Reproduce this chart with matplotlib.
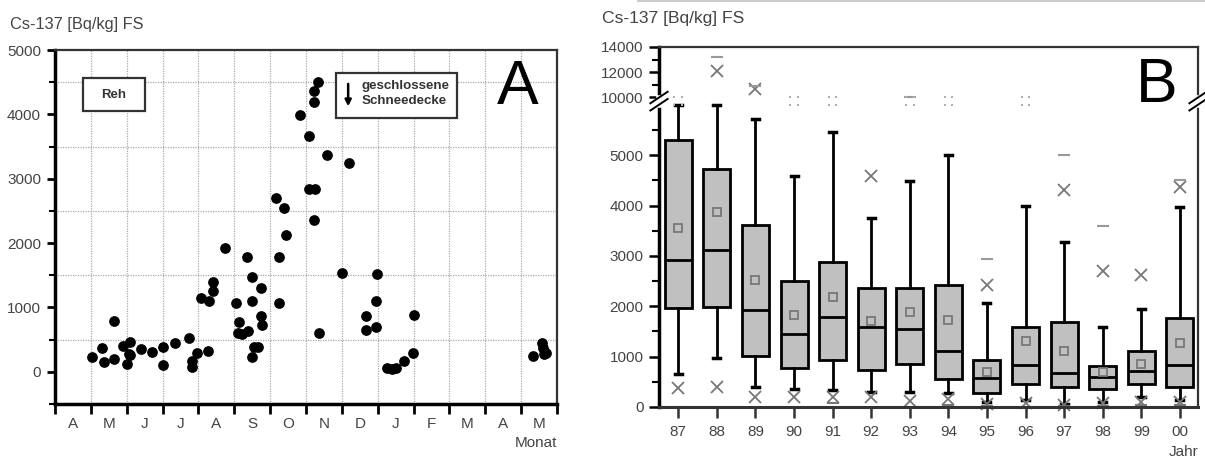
import numpy as np
import matplotlib
matplotlib.use('Agg')
import matplotlib.pyplot as plt
from matplotlib.patches import Rectangle
from matplotlib.lines import Line2D

plt.rcParams['font.family'] = ['Liberation Sans', 'DejaVu Sans']

# ---- Panel A: Reh, Cs-137 je Monat (x = Monate ab Anfang April) ----
months = ['A', 'M', 'J', 'J', 'A', 'S', 'O', 'N', 'D', 'J', 'F', 'M', 'A', 'M']
reh_x = [1.02, 1.32, 1.38, 1.64, 1.64, 1.91, 2.0, 2.09, 2.06, 2.1, 2.39, 2.7, 3.0, 3.0,
         3.35, 3.74, 3.81, 3.81, 3.96, 4.07, 4.3, 4.4, 4.4, 4.27, 4.73, 5.06, 5.13, 5.1,
         5.21, 5.38, 5.35, 5.49, 5.49, 5.49, 5.54, 5.65, 5.75, 5.75, 5.78, 6.24, 6.24,
         6.44, 6.15, 6.38, 6.84, 7.33, 7.22, 7.22, 7.09, 7.59, 8.21, 7.09, 7.24, 7.22,
         8.0, 8.97, 8.94, 7.35, 8.68, 8.68, 8.94, 10.02, 9.99, 9.72, 9.26, 9.39, 9.5,
         13.33, 13.57, 13.61, 13.7, 13.64]
reh_y = [230, 370, 160, 790, 200, 400, 120, 460, 280, 260, 360, 310, 390, 110,
         450, 530, 170, 80, 290, 1150, 1100, 1400, 1260, 330, 1930, 1070, 780, 610,
         590, 640, 1790, 1480, 1100, 230, 390, 390, 1310, 860, 720, 1790, 1070,
         2130, 2700, 2550, 3990, 4510, 4370, 4190, 3670, 3370, 3250, 2840, 2840, 2360,
         1530, 1520, 1100, 600, 870, 650, 690, 890, 290, 170, 60, 40, 60,
         250, 450, 370, 300, 280]

# ---- Panel B: Boxplots je Jahr ----
years = ['87', '88', '89', '90', '91', '92', '93', '94', '95', '96', '97', '98', '99', '00']
q1 = [1970, 1990, 1010, 780, 930, 730, 850, 560, 270, 460, 390, 360, 460, 400]
med = [2920, 3120, 1930, 1450, 1790, 1590, 1550, 1120, 570, 840, 680, 600, 720, 840]
q3 = [5310, 4730, 3620, 2510, 2880, 2370, 2370, 2430, 930, 1580, 1690, 820, 1110, 1770]
whis_lo = [650, 970, 400, 360, 340, 300, 300, 270, 100, 140, 50, 100, 200, 140]
whis_hi = [6000, 6000, 5720, 4580, 5470, 3760, 4490, 5000, 2070, 4000, 3270, 1590, 1950, 3980]
means = [3560, 3870, 2530, 1830, 2190, 1710, 1890, 1730, 700, 1310, 1120, 700, 850, 1270]
p99 = [np.nan, 12080, 10640, np.nan, np.nan, 4580, np.nan, np.nan, 2420, np.nan, 4300, 2710, 2620, 4360]
p1 = [380, 400, 200, 200, 200, 200, 120, 150, 60, 80, 30, 80, 100, 100]
vmax = [np.nan, 13200, 10900, np.nan, np.nan, np.nan, 10000, np.nan, 2940, np.nan, 5000, 3600, np.nan, 4510]
vmin = [0, np.nan, np.nan, np.nan, 80, np.nan, np.nan, 40, 20, np.nan, 10, 20, 30, 30]
offscale = [1, 0, 0, 1, 1, 0, 1, 1, 0, 1, 0, 0, 0, 0]


def fwd(v):
    v = np.asarray(v, float)
    return np.where(v <= 6000, v,
                    np.where(v >= 10000, 6150 + (v - 10000) / 4.0,
                             6000 + (v - 6000) * 150.0 / 4000))


def inv(u):
    u = np.asarray(u, float)
    return np.where(u <= 6000, u,
                    np.where(u >= 6150, 10000 + (u - 6150) * 4.0,
                             6000 + (u - 6000) * 4000.0 / 150))


fig = plt.figure(figsize=(12.05, 4.59), dpi=100)
tc = '#444444'

# ================= A =================
axA = fig.add_axes([55 / 1205, 1 - 404 / 459, 502 / 1205, 354 / 459])
axA.set_xlim(0, 14)
axA.set_ylim(-500, 5000)
axA.set_xticks(np.arange(0, 15))
axA.set_xticklabels([])
axA.set_xticks(np.arange(0.5, 14), labels=months, minor=True)
axA.set_yticks([0, 1000, 2000, 3000, 4000, 5000])
axA.set_yticks(np.arange(-500, 5001, 500), minor=True)
axA.grid(True, which='major', axis='x', color='#aaaaaa', ls=(0, (1, 1)), lw=0.9)
axA.grid(True, which='minor', axis='y', color='#aaaaaa', ls=(0, (1, 1)), lw=0.9)
axA.tick_params(axis='x', which='major', length=7, width=2, direction='out')
axA.tick_params(axis='x', which='minor', length=0, pad=9, labelsize=11, labelcolor=tc)
axA.tick_params(axis='y', which='major', length=6, width=2, pad=4, labelsize=11, labelcolor=tc)
axA.tick_params(axis='y', which='minor', length=4, width=1.5)
axA.spines['left'].set_linewidth(2.5)
axA.spines['bottom'].set_linewidth(2.5)
for s in ['top', 'right']:
    axA.spines[s].set_linewidth(1.6)
    axA.spines[s].set_color('#333333')
axA.set_axisbelow(True)
axA.scatter(reh_x, reh_y, s=45, color='black', zorder=3, clip_on=False)

axA.add_patch(Rectangle((0.056, 0.828), 0.123, 0.093, transform=axA.transAxes,
                        fill=True, fc='white', ec='#333333', lw=1.6, zorder=4))
axA.text(0.1175, 0.874, 'Reh', transform=axA.transAxes, ha='center', va='center',
         fontsize=9.5, fontweight='bold', color='#333333', zorder=5)
axA.add_patch(Rectangle((0.56, 0.808), 0.24, 0.127, transform=axA.transAxes,
                        fill=True, fc='white', ec='#333333', lw=1.6, zorder=4))
axA.text(0.611, 0.898, 'geschlossene', transform=axA.transAxes, ha='left', va='center',
         fontsize=9.6, fontweight='bold', color='#333333', zorder=5)
axA.text(0.611, 0.856, 'Schneedecke', transform=axA.transAxes, ha='left', va='center',
         fontsize=9.6, fontweight='bold', color='#333333', zorder=5)
axA.annotate('', xy=(0.584, 0.833), xytext=(0.584, 0.912), xycoords='axes fraction',
             arrowprops=dict(arrowstyle='-|>', color='black', lw=1.8, mutation_scale=9),
             zorder=5)
axA.text(0.922, 0.895, 'A', transform=axA.transAxes, ha='center', va='center',
         fontsize=45, color='black')
fig.text(557 / 1205, 1 - 443 / 459, 'Monat', ha='right', va='center', fontsize=11, color=tc)
fig.text(10 / 1205, 1 - 24 / 459, 'Cs-137 [Bq/kg] FS', ha='left', va='center',
         fontsize=11.8, color=tc)

# ================= B =================
axB = fig.add_axes([659 / 1205, 1 - 407 / 459, 539 / 1205, 360 / 459])
axB.set_yscale('function', functions=(fwd, inv))
axB.set_ylim(0, 14000)
axB.set_xlim(-0.5, 13.47)
pos = np.arange(len(years))
stats = [dict(q1=a, med=b, q3=c, whislo=d, whishi=e, mean=f, fliers=[])
         for a, b, c, d, e, f in zip(q1, med, q3, whis_lo, whis_hi, means)]
axB.bxp(stats, positions=pos, widths=0.7, capwidths=0.18, showmeans=True,
        showfliers=False, patch_artist=True,
        boxprops=dict(facecolor='#c0c0c0', edgecolor='black', lw=2),
        medianprops=dict(color='black', lw=2),
        whiskerprops=dict(color='black', lw=2),
        capprops=dict(color='black', lw=2.5),
        meanprops=dict(marker='s', mfc='none', mec='#777777', ms=6, mew=1.3))
axB.plot(pos, p99, ls='none', marker='x', color='#777777', ms=8, mew=1.3, clip_on=False)
axB.plot(pos, p1, ls='none', marker='x', color='#777777', ms=8, mew=1.3, clip_on=False)
axB.plot(pos, vmax, ls='none', marker='_', color='#999999', ms=9, mew=1.5, clip_on=False)
axB.plot(pos, vmin, ls='none', marker='_', color='#777777', ms=9, mew=1.5, clip_on=False)
for p, f in zip(pos, offscale):
    if f:
        axB.plot([p - 0.1, p + 0.1, p - 0.1, p + 0.1], [10000, 10000, 5990, 5990],
                 ls='none', marker='s', ms=1.8, color='#b0b0b0', mew=0)

axB.set_xticks(pos, labels=years)
axB.set_yticks([0, 1000, 2000, 3000, 4000, 5000, 10000, 12000, 14000])
axB.set_yticks([500, 1500, 2500, 3500, 4500, 5500, 11000, 13000], minor=True)
axB.tick_params(axis='x', length=8, width=1.8, pad=5, labelsize=11, labelcolor=tc, color='#333333')
axB.tick_params(axis='y', which='major', length=7, width=1.8, pad=4, labelsize=11, labelcolor=tc)
axB.tick_params(axis='y', which='minor', length=5, width=1.5)
axB.spines['left'].set_linewidth(2.5)
axB.spines['bottom'].set_linewidth(2.2)
axB.spines['bottom'].set_color('#333333')
for s in ['top', 'right']:
    axB.spines[s].set_linewidth(1.6)
    axB.spines[s].set_color('#333333')

# Achsenbruch
yb = fwd(8000) / 7150.0
for xb in (0.0, 1.0):
    axB.add_line(Line2D([xb, xb], [yb - 0.01, yb + 0.01], transform=axB.transAxes,
                        color='white', lw=4, clip_on=False, zorder=6))
    for dy in (-0.01, 0.01):
        axB.add_line(Line2D([xb - 0.016, xb + 0.016], [yb + dy - 0.016, yb + dy + 0.016],
                            transform=axB.transAxes, color='black', lw=1.4,
                            clip_on=False, zorder=7))

axB.text(0.924, 0.892, 'B', transform=axB.transAxes, ha='center', va='center',
         fontsize=45, color='black')
fig.text(1198 / 1205, 1 - 452 / 459, 'Jahr', ha='right', va='center', fontsize=11, color=tc)
fig.text(602 / 1205, 1 - 19 / 459, 'Cs-137 [Bq/kg] FS', ha='left', va='center',
         fontsize=12.6, color=tc)
fig.add_artist(Line2D([638 / 1205, 1.0], [1 - 1 / 459, 1 - 1 / 459],
                      transform=fig.transFigure, color='#cccccc', lw=1.5))

fig.savefig('out.png', dpi=100)
